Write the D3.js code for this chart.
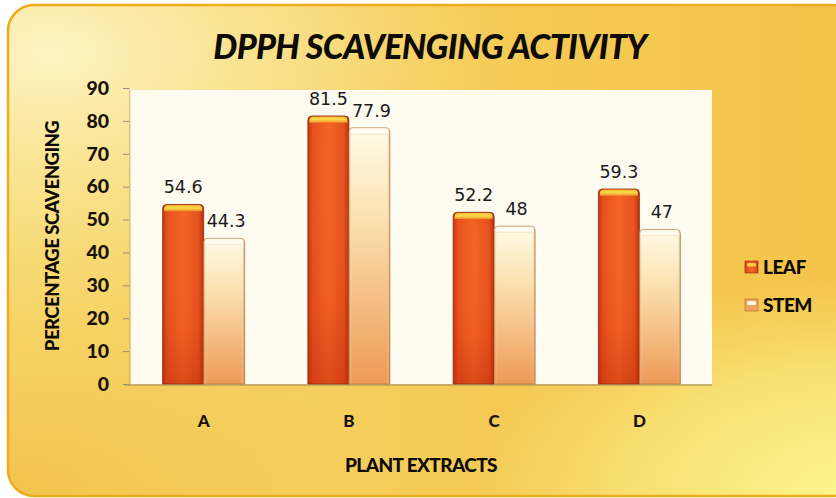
<!DOCTYPE html>
<html>
<head>
<meta charset="utf-8">
<script src="https://cdn.jsdelivr.net/npm/d3@7"></script>
<style>
  html, body { margin: 0; padding: 0; background: #ffffff; }
  svg { display: block; }
</style>
</head>
<body>
<svg id="chart" width="836" height="498"></svg>
<script>
// Plant extracts and their DPPH radical scavenging (%)
const categories = ["A", "B", "C", "D"];
const seriesNames = ["LEAF", "STEM"];
const leafValues = [54.6, 81.5, 52.2, 59.3];
const stemValues = [44.3, 77.9, 48, 47];
const yTicks = [0, 10, 20, 30, 40, 50, 60, 70, 80, 90];

const title = "DPPH SCAVENGING ACTIVITY";
const xTitle = "PLANT EXTRACTS";
const yTitle = "PERCENTAGE SCAVENGING";

const svg = d3.select("#chart");
const defs = svg.append("defs");

// ---- gradients ----
function linGrad(id, x1, y1, x2, y2, stops) {
  const g = defs.append("linearGradient").attr("id", id)
    .attr("x1", x1).attr("y1", y1).attr("x2", x2).attr("y2", y2);
  stops.forEach(s => g.append("stop").attr("offset", s[0]).attr("stop-color", s[1]).attr("stop-opacity", s[2] == null ? 1 : s[2]));
}
function radGrad(id, cx, cy, r, stops) {
  const g = defs.append("radialGradient").attr("id", id)
    .attr("cx", cx).attr("cy", cy).attr("r", r);
  stops.forEach(s => g.append("stop").attr("offset", s[0]).attr("stop-color", s[1]).attr("stop-opacity", s[2] == null ? 1 : s[2]));
}

linGrad("cardBase", "0", "0", "1", "0", [[0, "#f6d66a"], [0.5, "#f5cc58"], [1, "#f4c448"]]);
radGrad("glowTL", "0.05", "0.1", "0.55", [[0, "#fdf6c8", 0.95], [0.6, "#fbe9a0", 0.5], [1, "#f8dc80", 0]]);
radGrad("glowBR", "1", "1", "0.45", [[0, "#fbf88e", 1], [0.6, "#faf08a", 0.6], [1, "#f8e680", 0]]);
radGrad("glowBL", "0", "1", "0.4", [[0, "#f2bf48", 0.8], [1, "#f2bf48", 0]]);

linGrad("leafBody", "0", "0", "1", "0", [[0, "#c8360e"], [0.12, "#e8501c"], [0.5, "#f36424"], [0.88, "#e6501c"], [1, "#b8300c"]]);
linGrad("leafShade", "0", "0", "0", "1", [[0, "#ffffff", 0], [0.7, "#b02008", 0.05], [1, "#b02008", 0.35]]);
linGrad("leafCap", "0", "0", "0", "1", [[0, "#f9c83a"], [0.5, "#f8d848"], [1, "#f08a2a"]]);

linGrad("stemBody", "0", "0", "0", "1", [[0, "#fffbe8"], [0.35, "#fbe2b0"], [1, "#ee9a56"]]);
linGrad("stemSide", "0", "0", "1", "0", [[0, "#c87c3a", 0.55], [0.08, "#ffffff", 0], [0.92, "#ffffff", 0], [1, "#b87030", 0.6]]);
linGrad("stemCap", "0", "0", "0", "1", [[0, "#fff9e6"], [0.6, "#fffef8"], [1, "#f8e6c0"]]);

// ---- card background ----
const card = { x: 8, y: 5, w: 850, h: 491, r: 26 };
["cardBase", "glowBL", "glowTL", "glowBR"].forEach(id => {
  svg.append("rect").attr("x", card.x).attr("y", card.y).attr("width", card.w).attr("height", card.h)
    .attr("rx", card.r).attr("fill", `url(#${id})`);
});
svg.append("rect").attr("x", card.x).attr("y", card.y).attr("width", card.w).attr("height", card.h)
  .attr("rx", card.r).attr("fill", "none").attr("stroke", "#eeac1c").attr("stroke-width", 2.5);

// ---- scales ----
const plot = { left: 131, right: 712, top: 88, bottom: 384 };
const x = d3.scaleBand().domain(categories).range([plot.left, plot.right]).padding(0);
const barW = 41;
const sub = d3.scaleBand().domain(seriesNames).range([-barW, barW]).padding(0);
const y = d3.scaleLinear().domain([0, 90]).range([plot.bottom, plot.top]);

// plot wall
svg.append("rect").attr("x", plot.left).attr("y", y(90) + 2).attr("width", plot.right - plot.left)
  .attr("height", plot.bottom - y(90) - 2).attr("fill", "#fefcf0");

const boldFont = "Lato, 'Open Sans', sans-serif";

// ---- axes ----
const yAxis = d3.axisLeft(y).tickValues(yTicks).tickSize(6).tickPadding(14).tickFormat(d3.format("d"));
const gy = svg.append("g").attr("transform", `translate(${plot.left - 2},0)`).call(yAxis);
gy.select(".domain").attr("stroke", "#c8b89a").attr("stroke-width", 0.8);
gy.selectAll(".tick line").attr("stroke", "#9a8c78");
gy.selectAll(".tick text").attr("fill", "#1a1208")
  .style("font-family", boldFont).style("font-weight", 900).style("font-size", "19.5px");

const xAxis = d3.axisBottom(x).tickSize(0).tickPadding(30);
const gx = svg.append("g").attr("transform", `translate(0,${plot.bottom + 1})`).call(xAxis);
gx.select(".domain").attr("stroke", "#9a8c78").attr("stroke-width", 1)
  .attr("d", `M${plot.left - 6},0H${plot.right}`);
gx.selectAll(".tick text").attr("fill", "#1a1208")
  .style("font-family", boldFont).style("font-weight", 900).style("font-size", "17px");

// ---- bars ----
const rows = categories.map((c, i) => ({ cat: c, values: [
  { key: "LEAF", value: leafValues[i] },
  { key: "STEM", value: stemValues[i] }
]}));

function topRounded(x0, y0, w, h, r) {
  return `M${x0},${y0 + h}V${y0 + r}Q${x0},${y0} ${x0 + r},${y0}H${x0 + w - r}Q${x0 + w},${y0} ${x0 + w},${y0 + r}V${y0 + h}Z`;
}

const groups = svg.append("g").selectAll("g").data(rows).join("g")
  .attr("transform", d => `translate(${x(d.cat) + x.bandwidth() / 2},0)`);

groups.each(function (row) {
  const g = d3.select(this);
  row.values.forEach(v => {
    const bx = sub(v.key), bw = sub.bandwidth();
    const by = y(v.value), bh = y(0) - y(v.value);
    if (v.key === "LEAF") {
      g.append("path").attr("d", topRounded(bx, by, bw, bh, 4)).attr("fill", "url(#leafBody)")
        .attr("stroke", "#8a2a08").attr("stroke-width", 0.8);
      g.append("path").attr("d", topRounded(bx, by, bw, bh, 4)).attr("fill", "url(#leafShade)");
      g.append("path").attr("d", topRounded(bx + 1.5, by + 0.8, bw - 3, 6, 4)).attr("fill", "url(#leafCap)");
    } else {
      g.append("path").attr("d", topRounded(bx, by, bw, bh, 4)).attr("fill", "url(#stemBody)")
        .attr("stroke", "#a8642a").attr("stroke-width", 0.6);
      g.append("path").attr("d", topRounded(bx, by, bw, bh, 4)).attr("fill", "url(#stemSide)");
      g.append("path").attr("d", topRounded(bx + 1.5, by + 0.8, bw - 3, 6, 4)).attr("fill", "url(#stemCap)");
    }
    // value label
    g.append("text").attr("x", bx + bw / 2 + (v.key === "STEM" ? 2 : 0)).attr("y", by - 11)
      .attr("text-anchor", "middle").attr("fill", "#1a1a1a")
      .style("font-family", "'DejaVu Sans', Verdana, sans-serif").style("font-size", "17.5px")
      .text(v.value);
  });
});

// ---- titles ----
svg.append("text").attr("x", 430).attr("y", 59).attr("text-anchor", "middle").attr("fill", "#0e0a06")
  .style("font-family", boldFont).style("font-weight", 900).style("font-style", "italic")
  .style("font-size", "34px").style("letter-spacing", "-0.7px").text(title);

svg.append("text").attr("x", 421).attr("y", 472).attr("text-anchor", "middle").attr("fill", "#0e0a06")
  .style("font-family", boldFont).style("font-weight", 900).style("font-size", "19px")
  .style("letter-spacing", "-0.6px").text(xTitle);

svg.append("text").attr("transform", "translate(59,236) rotate(-90)").attr("text-anchor", "middle").attr("fill", "#0e0a06")
  .style("font-family", boldFont).style("font-weight", 900).style("font-size", "18.5px")
  .style("letter-spacing", "-0.5px").text(yTitle);

// ---- legend ----
const legend = svg.append("g").attr("transform", "translate(745,0)");
const legendY = [267, 305];
seriesNames.forEach((name, i) => {
  const g = legend.append("g").attr("transform", `translate(0,${legendY[i]})`);
  if (name === "LEAF") {
    g.append("rect").attr("x", 0).attr("y", -6).attr("width", 13).attr("height", 12).attr("fill", "url(#leafBody)")
      .attr("stroke", "#8a2a08").attr("stroke-width", 0.6);
    g.append("rect").attr("x", 2).attr("y", -4).attr("width", 9).attr("height", 4).attr("rx", 1.5).attr("fill", "url(#leafCap)");
  } else {
    g.append("rect").attr("x", 0).attr("y", -6).attr("width", 13).attr("height", 12).attr("fill", "#eea260")
      .attr("stroke", "#b06a2a").attr("stroke-width", 0.6);
    g.append("rect").attr("x", 2).attr("y", -4).attr("width", 9).attr("height", 4).attr("rx", 1.5).attr("fill", "#fff6e2");
  }
  g.append("text").attr("x", 18).attr("y", 7).attr("fill", "#0e0a06")
    .style("font-family", boldFont).style("font-weight", 900).style("font-size", "19px")
    .style("letter-spacing", "-0.5px").text(name);
});
</script>
</body>
</html>
